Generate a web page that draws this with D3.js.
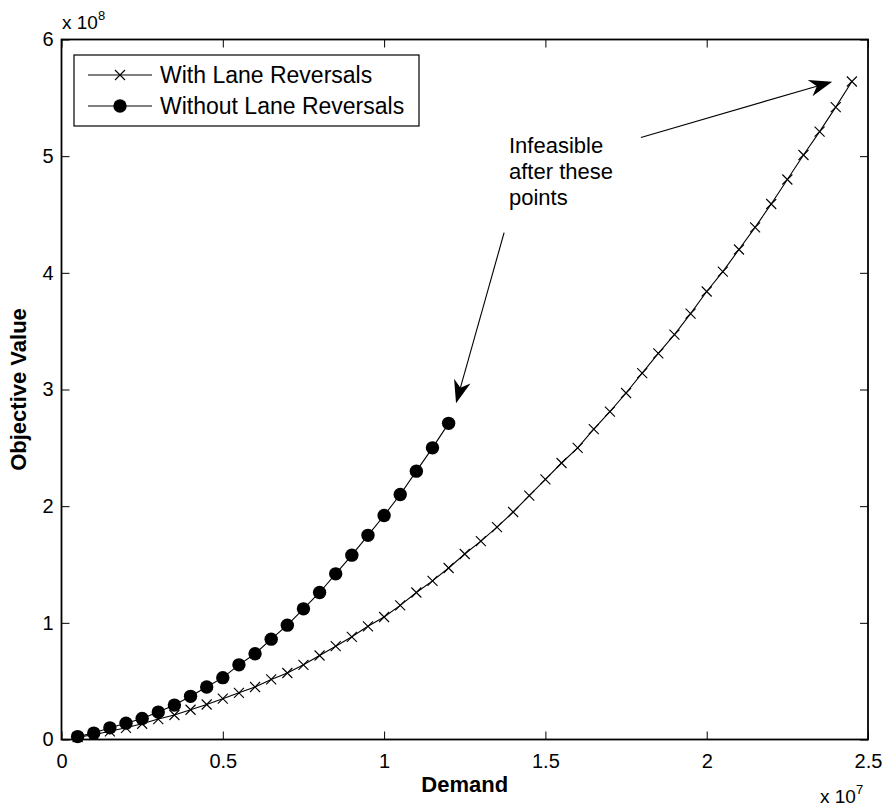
<!DOCTYPE html>
<html>
<head>
<meta charset="utf-8">
<script src="https://cdn.jsdelivr.net/npm/d3@7"></script>
<style>
  html, body { margin: 0; padding: 0; background: #fff; }
  svg { display: block; font-family: Arial, "Liberation Sans", Helvetica, sans-serif; }
</style>
</head>
<body>
<svg id="chart" width="885" height="810"></svg>
<script>
// ---- data (demand in units of 1e7, objective in units of 1e8) ----
const withDemand = [0.05,0.10,0.15,0.20,0.25,0.30,0.35,0.40,0.45,0.50,0.55,0.60,0.65,0.70,0.75,0.80,0.85,0.90,0.95,1.00,
  1.05,1.10,1.15,1.20,1.25,1.30,1.35,1.40,1.45,1.50,1.55,1.60,1.65,1.70,1.75,1.80,1.85,1.90,1.95,2.00,
  2.05,2.10,2.15,2.20,2.25,2.30,2.35,2.40,2.45];
const withObjective = [0.02,0.04,0.07,0.10,0.135,0.175,0.21,0.255,0.30,0.35,0.40,0.45,0.515,0.57,0.64,0.72,0.80,0.88,0.97,1.05,
  1.15,1.26,1.36,1.47,1.59,1.70,1.82,1.95,2.09,2.23,2.37,2.50,2.66,2.81,2.97,3.14,3.31,3.47,3.65,3.84,
  4.01,4.20,4.39,4.59,4.80,5.01,5.21,5.42,5.64];
const withoutDemand = [0.05,0.10,0.15,0.20,0.25,0.30,0.35,0.40,0.45,0.50,0.55,0.60,0.65,0.70,0.75,0.80,0.85,0.90,0.95,1.00,1.05,1.10,1.15,1.20];
const withoutObjective = [0.025,0.055,0.10,0.14,0.18,0.235,0.295,0.37,0.45,0.53,0.64,0.735,0.86,0.98,1.12,1.26,1.42,1.58,1.75,1.92,2.10,2.30,2.50,2.71];
const xTicks = [0, 0.5, 1, 1.5, 2, 2.5];
const yTicks = [0, 1, 2, 3, 4, 5, 6];
const seriesNames = ["With Lane Reversals", "Without Lane Reversals"];
const annotationLines = ["Infeasible", "after these", "points"];
// annotation arrows in data units: [tailX, tailY, tipX, tipY]
const arrows = [[1.796, 5.16, 2.389, 5.638], [1.372, 4.344, 1.223, 2.882]];

const svg = d3.select("#chart");
const L = 61.5, R = 868, T = 39.5, B = 739.5;
const x = d3.scaleLinear().domain([0, 2.5]).range([L, R]);
const y = d3.scaleLinear().domain([0, 6]).range([B, T]);
const fmt = d => String(d);
const tickLen = 8;

// axes with inward ticks on all four sides
const axB = svg.append("g").attr("transform", `translate(0,${B})`)
  .call(d3.axisBottom(x).tickValues(xTicks).tickFormat(fmt).tickSizeInner(-tickLen).tickSizeOuter(0).tickPadding(14));
const axT = svg.append("g").attr("transform", `translate(0,${T})`)
  .call(d3.axisTop(x).tickValues(xTicks).tickFormat("").tickSizeInner(-tickLen).tickSizeOuter(0));
const axL = svg.append("g").attr("transform", `translate(${L},0)`)
  .call(d3.axisLeft(y).tickValues(yTicks).tickFormat(fmt).tickSizeInner(-tickLen).tickSizeOuter(0).tickPadding(8));
const axR = svg.append("g").attr("transform", `translate(${R},0)`)
  .call(d3.axisRight(y).tickValues(yTicks).tickFormat("").tickSizeInner(-tickLen).tickSizeOuter(0));
[axB, axT, axL, axR].forEach(a => {
  a.select(".domain").remove();
  a.selectAll("line").attr("stroke", "#000").attr("stroke-width", 1);
  a.selectAll("text").attr("fill", "#000").style("font-size", "20px").style("font-family", "Arial, 'Liberation Sans', sans-serif");
});
axB.selectAll("text").attr("dy", "0.71em");
// box
svg.append("rect").attr("x", L).attr("y", T).attr("width", R - L).attr("height", B - T)
  .attr("fill", "none").attr("stroke", "#000").attr("stroke-width", 1.8);

// exponent labels
const e8 = svg.append("text").attr("x", 62).attr("y", 29).style("font-size", "19px");
e8.append("tspan").text("x 10");
e8.append("tspan").attr("dy", -9).style("font-size", "13px").text("8");
const e7 = svg.append("text").attr("x", 820).attr("y", 803).style("font-size", "19px");
e7.append("tspan").text("x 10");
e7.append("tspan").attr("dy", -9).style("font-size", "13px").text("7");

// axis titles
svg.append("text").attr("x", (L + R) / 2).attr("y", 792).attr("text-anchor", "middle")
  .style("font-size", "22px").style("font-weight", "bold").text("Demand");
svg.append("text").attr("transform", `translate(26,${(T + B) / 2}) rotate(-90)`).attr("text-anchor", "middle")
  .style("font-size", "22px").style("font-weight", "bold").text("Objective Value");

// lines
const line = d3.line().x(d => x(d[0])).y(d => y(d[1]));
const withData = withDemand.map((d, i) => [d, withObjective[i]]);
const withoutData = withoutDemand.map((d, i) => [d, withoutObjective[i]]);
svg.append("path").datum(withData).attr("d", line).attr("fill", "none").attr("stroke", "#000").attr("stroke-width", 1.1);
svg.append("path").datum(withoutData).attr("d", line).attr("fill", "none").attr("stroke", "#000").attr("stroke-width", 1.1);

const cs = 5;
const crossPath = (cx, cy) => `M${cx - cs},${cy - cs}L${cx + cs},${cy + cs}M${cx - cs},${cy + cs}L${cx + cs},${cy - cs}`;
svg.append("g").selectAll("path").data(withData).join("path")
  .attr("d", d => crossPath(x(d[0]), y(d[1]))).attr("stroke", "#000").attr("stroke-width", 1.1).attr("fill", "none");
svg.append("g").selectAll("circle").data(withoutData).join("circle")
  .attr("cx", d => x(d[0])).attr("cy", d => y(d[1])).attr("r", 6.7).attr("fill", "#000");

// legend
const lg = svg.append("g");
lg.append("rect").attr("x", 74).attr("y", 55).attr("width", 345).attr("height", 71)
  .attr("fill", "#fff").attr("stroke", "#000").attr("stroke-width", 1.2);
const ly = [75, 106];
seriesNames.forEach((name, i) => {
  lg.append("line").attr("x1", 88).attr("x2", 152).attr("y1", ly[i]).attr("y2", ly[i]).attr("stroke", "#000").attr("stroke-width", 1.1);
  if (i === 0) lg.append("path").attr("d", crossPath(120, ly[i])).attr("stroke", "#000").attr("stroke-width", 1.1);
  else lg.append("circle").attr("cx", 120).attr("cy", ly[i]).attr("r", 6.7).attr("fill", "#000");
  lg.append("text").attr("x", 160).attr("y", ly[i]).attr("dy", "0.36em").style("font-size", "23px").text(name);
});

// annotation text
const at = svg.append("text").attr("x", 509).attr("y", 153).style("font-size", "22px");
annotationLines.forEach((t, i) => at.append("tspan").attr("x", 509).attr("dy", i === 0 ? 0 : 26).text(t));

// arrows
arrows.forEach(a => {
  const x1 = x(a[0]), y1 = y(a[1]), x2 = x(a[2]), y2 = y(a[3]);
  const ang = Math.atan2(y2 - y1, x2 - x1);
  const ux = Math.cos(ang), uy = Math.sin(ang), px = -uy, py = ux;
  const hl = 23, hw = 8.5, notch = 16;
  svg.append("line").attr("x1", x1).attr("y1", y1).attr("x2", x2 - ux * notch).attr("y2", y2 - uy * notch)
    .attr("stroke", "#000").attr("stroke-width", 1.1);
  const p = [
    [x2, y2],
    [x2 - ux * hl + px * hw, y2 - uy * hl + py * hw],
    [x2 - ux * notch, y2 - uy * notch],
    [x2 - ux * hl - px * hw, y2 - uy * hl - py * hw]
  ];
  svg.append("path").attr("d", "M" + p.map(q => q.join(",")).join("L") + "Z").attr("fill", "#000");
});
</script>
</body>
</html>
